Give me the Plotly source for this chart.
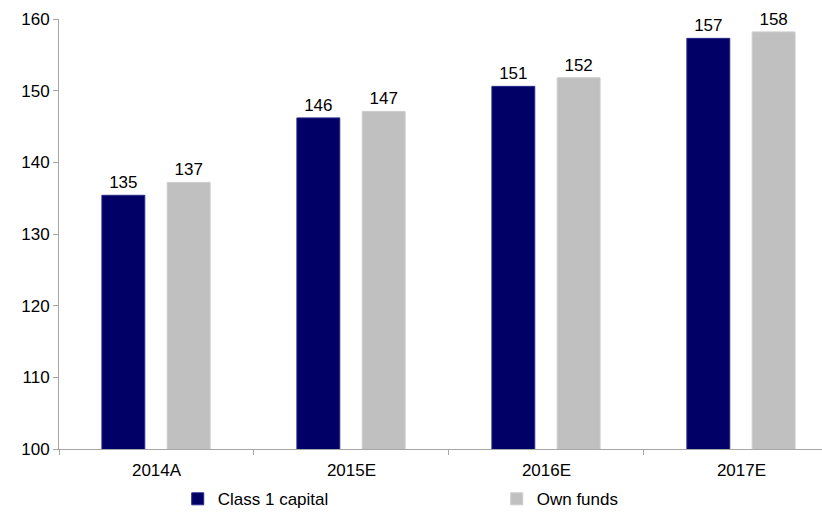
import plotly.graph_objects as go

categories = ["2014A", "2015E", "2016E", "2017E"]
class1_capital = [135.4, 146.2, 150.6, 157.3]
own_funds = [137.2, 147.1, 151.8, 158.2]
y_ticks = [100, 110, 120, 130, 140, 150, 160]

FONT = "Liberation Sans, Arial, sans-serif"
NAVY = "#000066"
GRAY = "#C0C0C0"

fig = go.Figure()
fig.add_trace(go.Bar(
    name="Class 1 capital", x=categories, y=class1_capital,
    marker=dict(color=NAVY, line=dict(color="#2a2a8a", width=1)),
    width=0.22, offset=-0.28,
    text=[f"{v:.0f}" for v in class1_capital], textposition="outside",
    textfont=dict(family=FONT, size=17, color="#000000"),
    cliponaxis=False, constraintext="none",
))
fig.add_trace(go.Bar(
    name="Own funds", x=categories, y=own_funds,
    marker=dict(color=GRAY, line=dict(color="#cccccc", width=1)),
    width=0.22, offset=0.055,
    text=[f"{v:.0f}" for v in own_funds], textposition="outside",
    textfont=dict(family=FONT, size=17, color="#000000"),
    cliponaxis=False, constraintext="none",
))

fig.update_layout(
    width=822, height=512,
    margin=dict(l=59, r=0, t=19, b=63, autoexpand=False),
    paper_bgcolor="white", plot_bgcolor="white",
    font=dict(family=FONT, size=17, color="#000000"),
    barmode="group",
    showlegend=True,
    legend=dict(
        orientation="h", x=0.1556, xanchor="left", y=-0.075, yanchor="top",
        entrywidth=274, entrywidthmode="pixels", itemwidth=30,
        font=dict(family=FONT, size=17, color="#000000"),
        bgcolor="rgba(0,0,0,0)", tracegroupgap=0,
    ),
    xaxis=dict(
        type="category", range=[-0.5, 3.413],
        showline=True, linecolor="#a6a6a6", linewidth=1,
        ticks="outside", tickson="boundaries", ticklen=5, tickcolor="#a6a6a6",
        showgrid=False, zeroline=False, ticklabelstandoff=6,
        tickfont=dict(family=FONT, size=17, color="#000000"),
    ),
    yaxis=dict(
        range=[100, 160], tickvals=y_ticks,
        showline=True, linecolor="#a6a6a6", linewidth=1,
        ticks="outside", ticklen=5, tickcolor="#a6a6a6",
        showgrid=False, zeroline=False,
        tickfont=dict(family=FONT, size=17, color="#000000"),
    ),
)

fig.write_html("out.html")
